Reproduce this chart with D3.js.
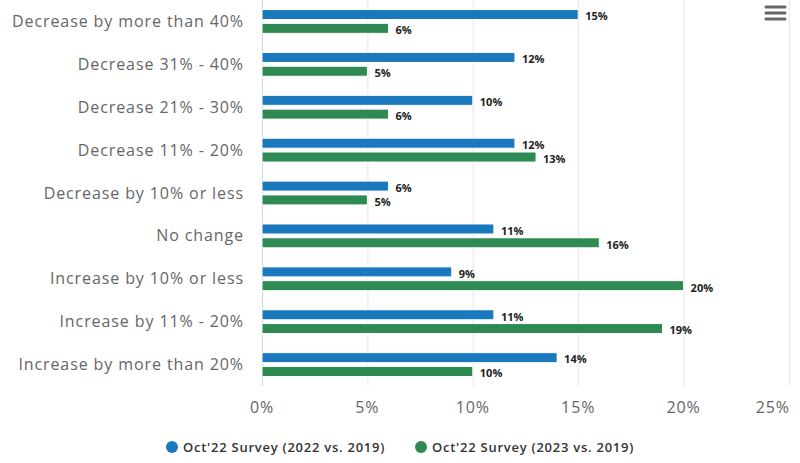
<!DOCTYPE html>
<html><head><meta charset="utf-8">
<script src="https://cdn.jsdelivr.net/npm/d3@7"></script>
<style>
html,body{margin:0;padding:0;background:#fff;}
svg{display:block;font-family:"Open Sans",sans-serif;}
</style></head>
<body><svg id="c" width="800" height="463"></svg>
<script>
const categories = ["Decrease by more than 40%","Decrease 31% - 40%","Decrease 21% - 30%","Decrease 11% - 20%","Decrease by 10% or less","No change","Increase by 10% or less","Increase by 11% - 20%","Increase by more than 20%"];
const seriesNames = ["Oct'22 Survey (2022 vs. 2019)","Oct'22 Survey (2023 vs. 2019)"];
const seriesColors = ["#1a78bd","#2e8a52"];
const values2022 = [15,12,10,12,6,11,9,11,14];
const values2023 = [6,5,6,13,5,16,20,19,10];
const xTicks = [0,5,10,15,20,25];

const series = [values2022, values2023];
const svg = d3.select("#c");
const L = 262, R = 789, T = 0, B = 386;
const x = d3.scaleLinear().domain([0,25]).range([L,R]);
const y0 = d3.scaleBand().domain(categories).range([T,B]).paddingInner(0).paddingOuter(0);
const y1 = d3.scaleBand().domain([0,1]).range([0,y0.bandwidth()]).paddingInner(0.275).paddingOuter(0.69);

// gridlines
svg.append("g").selectAll("line").data(xTicks.slice(1)).join("line")
  .attr("x1",d=>x(d)+0.5).attr("x2",d=>x(d)+0.5).attr("y1",T).attr("y2",B)
  .attr("stroke","#e6e6e6").attr("stroke-width",1);
// axis line
svg.append("line").attr("x1",L+0.5).attr("x2",L+0.5).attr("y1",T).attr("y2",B)
  .attr("stroke","#ccd6eb").attr("stroke-width",1);

// category labels
svg.append("g").selectAll("text").data(categories).join("text")
  .attr("x",244).attr("y",d=>y0(d)+y0.bandwidth()/2).attr("dy","0.35em")
  .attr("text-anchor","end").attr("fill","#666").attr("font-size","16px")
  .attr("letter-spacing","0.9px").text(d=>d);

// x tick labels
svg.append("g").selectAll("text").data(xTicks).join("text")
  .attr("x",(d,i)=> i===xTicks.length-1 ? x(d)+1 : x(d))
  .attr("y",413)
  .attr("text-anchor",(d,i)=> i===xTicks.length-1 ? "end" : "middle")
  .attr("fill","#666").attr("font-size","16px").attr("letter-spacing","0.9px").text(d=>d+"%");

// bars
series.forEach((vals,si)=>{
  const g = svg.append("g");
  g.selectAll("rect").data(vals).join("rect")
    .attr("x",x(0)).attr("y",(d,i)=>y0(categories[i])+y1(si))
    .attr("width",d=>x(d)-x(0)).attr("height",y1.bandwidth())
    .attr("fill",seriesColors[si]).attr("stroke","#fff").attr("stroke-width",1);
  g.selectAll("text").data(vals).join("text")
    .attr("x",d=>x(d)+7).attr("y",(d,i)=>y0(categories[i])+y1(si)+y1.bandwidth()/2+2)
    .attr("dy","0.35em").attr("font-size","11px").attr("font-weight","bold").attr("fill","#222")
    .text(d=>d+"%");
});

// legend
const legX = [172,421];
seriesNames.forEach((n,i)=>{
  svg.append("circle").attr("cx",legX[i]).attr("cy",447).attr("r",6).attr("fill",seriesColors[i]);
  svg.append("text").attr("x",legX[i]+11).attr("y",447).attr("dy","0.35em")
    .attr("font-size","13px").attr("font-weight","600").attr("fill","#333")
    .attr("letter-spacing","0.75px").text(n);
});

// menu icon
[7,13,19].forEach(yy=>{
  svg.append("line").attr("x1",766).attr("x2",785).attr("y1",yy).attr("y2",yy)
    .attr("stroke","#666").attr("stroke-width",3).attr("stroke-linecap","round");
});
</script></body></html>
